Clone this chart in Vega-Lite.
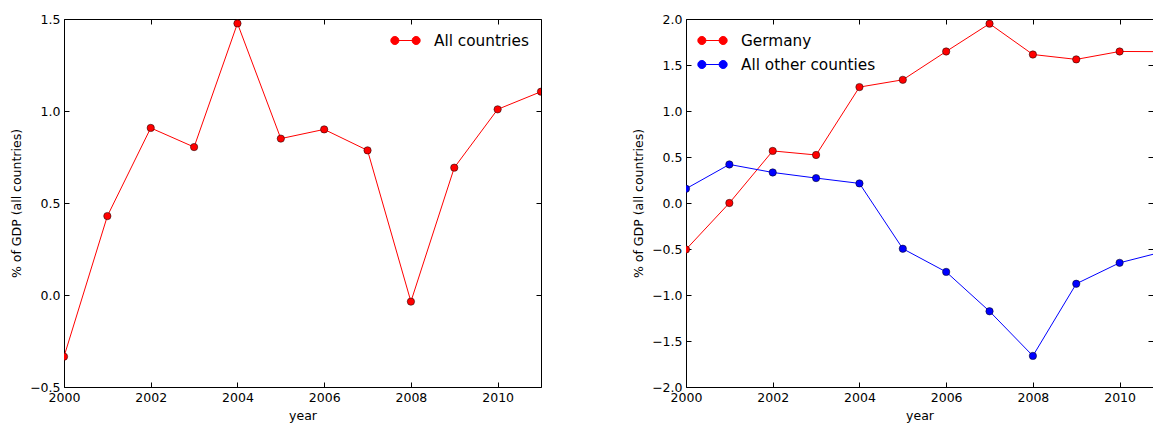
{
  "$schema": "https://vega.github.io/schema/vega-lite/v6.json",
  "padding": {"left": 10, "top": 12, "right": 0, "bottom": 0},
  "background": "white",
  "config": {
    "font": "DejaVu Sans",
    "view": {"stroke": "black", "strokeWidth": 1},
    "axis": {
      "domain": false, "grid": false,
      "tickColor": "black", "tickSize": -5, "tickWidth": 1,
      "labelFont": "DejaVu Sans", "labelFontSize": 12.5, "labelColor": "black",
      "titleFont": "DejaVu Sans", "titleFontSize": 12.5, "titleFontWeight": "normal", "titleColor": "black",
      "labelPadding": 9, "labelFlush": false, "labelOverlap": false
    },
    "legend": {
      "title": null,
      "labelFont": "DejaVu Sans", "labelFontSize": 15.3, "labelColor": "black",
      "symbolType": "M-0.71,0L0.71,0M-0.44,0A0.27,0.27,0,1,1,-0.98,0A0.27,0.27,0,1,1,-0.44,0ZM0.98,0A0.27,0.27,0,1,1,0.44,0A0.27,0.27,0,1,1,0.98,0Z",
      "symbolSize": 900, "symbolStrokeWidth": 1, "labelOffset": 13, "rowPadding": -2
    }
  },
  "datasets": {
    "all": [
      {"year": 2000, "value": -0.335, "series": "All countries"},
      {"year": 2001, "value": 0.429, "series": "All countries"},
      {"year": 2002, "value": 0.908, "series": "All countries"},
      {"year": 2003, "value": 0.804, "series": "All countries"},
      {"year": 2004, "value": 1.476, "series": "All countries"},
      {"year": 2005, "value": 0.85, "series": "All countries"},
      {"year": 2006, "value": 0.9, "series": "All countries"},
      {"year": 2007, "value": 0.786, "series": "All countries"},
      {"year": 2008, "value": -0.036, "series": "All countries"},
      {"year": 2009, "value": 0.692, "series": "All countries"},
      {"year": 2010, "value": 1.009, "series": "All countries"},
      {"year": 2011, "value": 1.105, "series": "All countries"}
    ],
    "split": [
      {"year": 2000, "value": -0.505, "series": "Germany"},
      {"year": 2001, "value": 0.0, "series": "Germany"},
      {"year": 2002, "value": 0.566, "series": "Germany"},
      {"year": 2003, "value": 0.522, "series": "Germany"},
      {"year": 2004, "value": 1.26, "series": "Germany"},
      {"year": 2005, "value": 1.339, "series": "Germany"},
      {"year": 2006, "value": 1.647, "series": "Germany"},
      {"year": 2007, "value": 1.949, "series": "Germany"},
      {"year": 2008, "value": 1.614, "series": "Germany"},
      {"year": 2009, "value": 1.561, "series": "Germany"},
      {"year": 2010, "value": 1.647, "series": "Germany"},
      {"year": 2011, "value": 1.645, "series": "Germany"},
      {"year": 2000, "value": 0.155, "series": "All other counties"},
      {"year": 2001, "value": 0.419, "series": "All other counties"},
      {"year": 2002, "value": 0.332, "series": "All other counties"},
      {"year": 2003, "value": 0.271, "series": "All other counties"},
      {"year": 2004, "value": 0.213, "series": "All other counties"},
      {"year": 2005, "value": -0.497, "series": "All other counties"},
      {"year": 2006, "value": -0.749, "series": "All other counties"},
      {"year": 2007, "value": -1.177, "series": "All other counties"},
      {"year": 2008, "value": -1.662, "series": "All other counties"},
      {"year": 2009, "value": -0.878, "series": "All other counties"},
      {"year": 2010, "value": -0.65, "series": "All other counties"},
      {"year": 2011, "value": -0.53, "series": "All other counties"}
    ]
  },
  "hconcat": [
    {
      "width": 477, "height": 368,
      "data": {"name": "all"},
      "encoding": {
        "color": {"field": "series", "type": "nominal", "scale": {"domain": ["All countries"], "range": ["#ff0000"]},
          "legend": {"orient": "none", "legendX": 326, "legendY": 6}}
      },
      "layer": [
        {
          "mark": {"type": "line", "strokeWidth": 1, "clip": true},
          "encoding": {
            "x": {"field": "year", "type": "quantitative", "scale": {"domain": [2000, 2011], "nice": false, "zero": false},
              "axis": {"orient": "bottom", "values": [2000, 2002, 2004, 2006, 2008, 2010], "format": "d", "title": "year", "titlePadding": 6}},
            "y": {"field": "value", "type": "quantitative", "scale": {"domain": [-0.5, 1.5], "nice": false, "zero": false},
              "axis": {"orient": "left", "values": [-0.5, 0, 0.5, 1, 1.5], "format": ".1f", "title": "% of GDP (all countries)", "titlePadding": 6}}
          }
        },
        {
          "mark": {"type": "point", "filled": true, "size": 54, "stroke": "black", "strokeWidth": 0.5, "opacity": 1, "clip": true},
          "encoding": {
            "x": {"field": "year", "type": "quantitative", "scale": {"domain": [2000, 2011], "nice": false, "zero": false},
              "axis": {"orient": "top", "values": [2000, 2002, 2004, 2006, 2008, 2010], "labels": false, "title": null}},
            "y": {"field": "value", "type": "quantitative", "scale": {"domain": [-0.5, 1.5], "nice": false, "zero": false},
              "axis": {"orient": "right", "values": [-0.5, 0, 0.5, 1, 1.5], "labels": false, "title": null}}
          }
        }
      ],
      "resolve": {"axis": {"x": "independent", "y": "independent"}}
    },
    {
      "width": 467, "height": 368,
      "data": {"name": "split"},
      "encoding": {
        "color": {"field": "series", "type": "nominal", "sort": ["Germany", "All other counties"],
          "scale": {"domain": ["Germany", "All other counties"], "range": ["#ff0000", "#0000ff"]},
          "legend": {"orient": "none", "legendX": 11, "legendY": 6}}
      },
      "layer": [
        {
          "mark": {"type": "line", "strokeWidth": 1, "clip": true},
          "encoding": {
            "x": {"field": "year", "type": "quantitative", "scale": {"domain": [2000, 2010.77], "nice": false, "zero": false},
              "axis": {"orient": "bottom", "values": [2000, 2002, 2004, 2006, 2008, 2010], "format": "d", "title": "year", "titlePadding": 6}},
            "y": {"field": "value", "type": "quantitative", "scale": {"domain": [-2, 2], "nice": false, "zero": false},
              "axis": {"orient": "left", "values": [-2, -1.5, -1, -0.5, 0, 0.5, 1, 1.5, 2], "format": ".1f", "title": "% of GDP (all countries)", "titlePadding": 6}}
          }
        },
        {
          "mark": {"type": "point", "filled": true, "size": 54, "stroke": "black", "strokeWidth": 0.5, "opacity": 1, "clip": true},
          "encoding": {
            "x": {"field": "year", "type": "quantitative", "scale": {"domain": [2000, 2010.77], "nice": false, "zero": false},
              "axis": {"orient": "top", "values": [2000, 2002, 2004, 2006, 2008, 2010], "labels": false, "title": null}},
            "y": {"field": "value", "type": "quantitative", "scale": {"domain": [-2, 2], "nice": false, "zero": false},
              "axis": {"orient": "right", "values": [-2, -1.5, -1, -0.5, 0, 0.5, 1, 1.5, 2], "labels": false, "title": null}}
          }
        }
      ],
      "resolve": {"axis": {"x": "independent", "y": "independent"}}
    }
  ],
  "spacing": 145,
  "bounds": "flush",
  "resolve": {"scale": {"color": "independent"}, "legend": {"color": "independent"}}
}
